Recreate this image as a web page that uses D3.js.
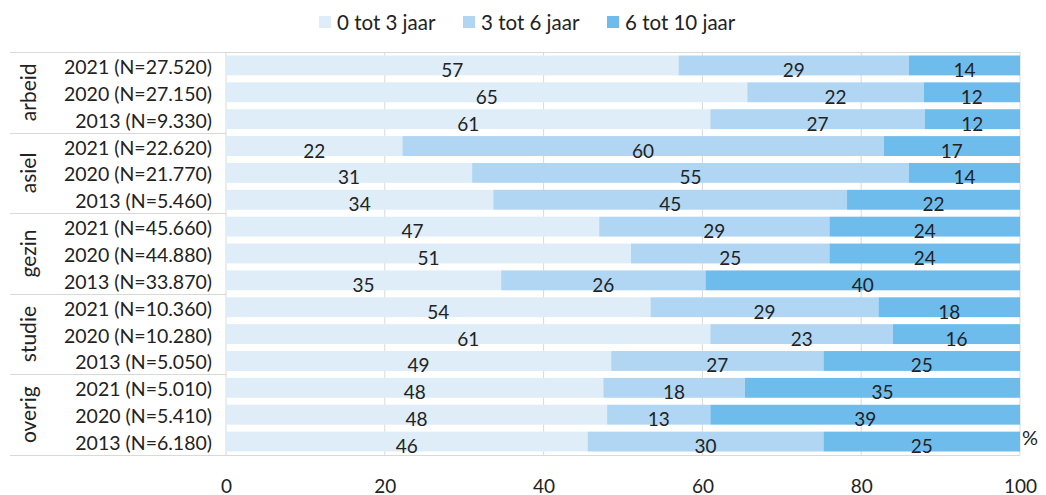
<!DOCTYPE html>
<html>
<head>
<meta charset="utf-8">
<script src="https://cdn.jsdelivr.net/npm/d3@7"></script>
<style>
body { margin: 0; background: #fff; }
svg { font-family: Lato, "Open Sans", sans-serif; }
</style>
</head>
<body>
<svg id="chart" width="1046" height="495"></svg>
<script>
var groups = ["arbeid", "asiel", "gezin", "studie", "overig"];
var rowLabels = [
    "2021 (N=27.520)", "2020 (N=27.150)", "2013 (N=9.330)",
    "2021 (N=22.620)", "2020 (N=21.770)", "2013 (N=5.460)",
    "2021 (N=45.660)", "2020 (N=44.880)", "2013 (N=33.870)",
    "2021 (N=10.360)", "2020 (N=10.280)", "2013 (N=5.050)",
    "2021 (N=5.010)", "2020 (N=5.410)", "2013 (N=6.180)"
];
var seriesNames = ["0 tot 3 jaar", "3 tot 6 jaar", "6 tot 10 jaar"];
var jaar0tot3 = [57, 65, 61, 22, 31, 34, 47, 51, 35, 54, 61, 49, 48, 48, 46];
var jaar3tot6 = [29, 22, 27, 60, 55, 45, 29, 25, 26, 29, 23, 27, 18, 13, 30];
var jaar6tot10 = [14, 12, 12, 17, 14, 22, 24, 24, 40, 18, 16, 25, 35, 39, 25];
var xTicks = [0, 20, 40, 60, 80, 100];
var colors = ["#dfedf9", "#b0d6f3", "#6ebcec"];

var svg = d3.select("#chart");

var rows = rowLabels.map(function (label, i) {
    return { key: i, label: label, group: groups[Math.floor(i / 3)],
        s0: jaar0tot3[i], s1: jaar3tot6[i], s2: jaar6tot10[i] };
});

var xScale = d3.scaleLinear().domain([0, 100]).range([226, 1020]);
var yScale = d3.scaleBand()
    .domain(rows.map(function (d) { return d.key; }))
    .range([52, 455])
    .paddingInner(0.26)
    .paddingOuter(0.13);

// gridlines
svg.append("g").selectAll("line")
    .data(xTicks)
    .enter()
    .append("line")
    .attr("x1", function (d) { return xScale(d); })
    .attr("x2", function (d) { return xScale(d); })
    .attr("y1", 52)
    .attr("y2", 455)
    .attr("stroke", "#d9d9d9")
    .attr("stroke-width", 1);

// group separators
var sepY = [0, 3, 6, 9, 12].map(function (i) { return yScale(i) - yScale.step() * yScale.paddingOuter(); });
svg.append("g").selectAll("line")
    .data(sepY)
    .enter()
    .append("line")
    .attr("x1", 10)
    .attr("x2", function (d, i) { return i == 0 ? 1020 : 226; })
    .attr("y1", function (d) { return Math.round(d) + 0.5; })
    .attr("y2", function (d) { return Math.round(d) + 0.5; })
    .attr("stroke", "#d9d9d9");
svg.append("line")
    .attr("x1", 10).attr("x2", 1020)
    .attr("y1", 455.5).attr("y2", 455.5)
    .attr("stroke", "#d9d9d9");

// stacked bars, normalised to 100%
var stack = d3.stack().keys(["s0", "s1", "s2"]).offset(d3.stackOffsetExpand);
var stacked = stack(rows);

var layers = svg.append("g").selectAll("g")
    .data(stacked)
    .enter()
    .append("g")
    .attr("fill", function (d, i) { return colors[i]; });

layers.selectAll("rect")
    .data(function (d) { return d; })
    .enter()
    .append("rect")
    .attr("x", function (d) { return xScale(d[0] * 100); })
    .attr("y", function (d) { return yScale(d.data.key); })
    .attr("width", function (d) { return xScale(d[1] * 100) - xScale(d[0] * 100); })
    .attr("height", yScale.bandwidth());

layers.selectAll("text")
    .data(function (d) { return d.map(function (p) { return { p: p, key: d.key }; }); })
    .enter()
    .append("text")
    .attr("x", function (d) { return xScale((d.p[0] + d.p[1]) / 2 * 100); })
    .attr("y", function (d) { return yScale(d.p.data.key) + yScale.bandwidth() / 2 + 4; })
    .attr("text-anchor", "middle")
    .attr("dominant-baseline", "central")
    .attr("fill", "#222")
    .style("font-size", "19px")
    .text(function (d) { return d.p.data[d.key]; });

// row labels
svg.append("g").selectAll("text")
    .data(rows)
    .enter()
    .append("text")
    .attr("x", 212)
    .attr("y", function (d) { return yScale(d.key) + yScale.bandwidth() / 2 + 1; })
    .attr("text-anchor", "end")
    .attr("dominant-baseline", "central")
    .attr("fill", "#222")
    .style("font-size", "19.5px")
    .text(function (d) { return d.label; });

// group labels
svg.append("g").selectAll("text")
    .data(groups)
    .enter()
    .append("text")
    .attr("transform", function (d, i) {
        var cy = (yScale(i * 3) + yScale(i * 3 + 2) + yScale.bandwidth()) / 2;
        return "translate(27," + cy + ") rotate(-90)";
    })
    .attr("text-anchor", "middle")
    .attr("dominant-baseline", "central")
    .attr("fill", "#222")
    .style("font-size", "21px")
    .text(function (d) { return d; });

// x axis
var xAxis = d3.axisBottom(xScale).tickValues(xTicks).tickSize(0).tickPadding(0);
var axisG = svg.append("g")
    .attr("transform", "translate(0,479)")
    .call(xAxis);
axisG.select(".domain").remove();
axisG.selectAll("text")
    .attr("fill", "#222")
    .style("font-size", "19px")
    .style("font-family", "Lato, 'Open Sans', sans-serif");

svg.append("text")
    .attr("x", 1022)
    .attr("y", 437)
    .attr("dominant-baseline", "central")
    .attr("fill", "#222")
    .style("font-size", "20px")
    .text("%");

// legend
var legendX = [319, 463, 607];
var legend = svg.append("g").selectAll("g")
    .data(seriesNames)
    .enter()
    .append("g")
    .attr("transform", function (d, i) { return "translate(" + legendX[i] + ",16)"; });
legend.append("rect")
    .attr("width", 12)
    .attr("height", 12)
    .attr("fill", function (d, i) { return colors[i]; });
legend.append("text")
    .attr("x", 18)
    .attr("y", 6)
    .attr("dominant-baseline", "central")
    .attr("fill", "#222")
    .style("font-size", "20.5px")
    .text(function (d) { return d; });
</script>
</body>
</html>
